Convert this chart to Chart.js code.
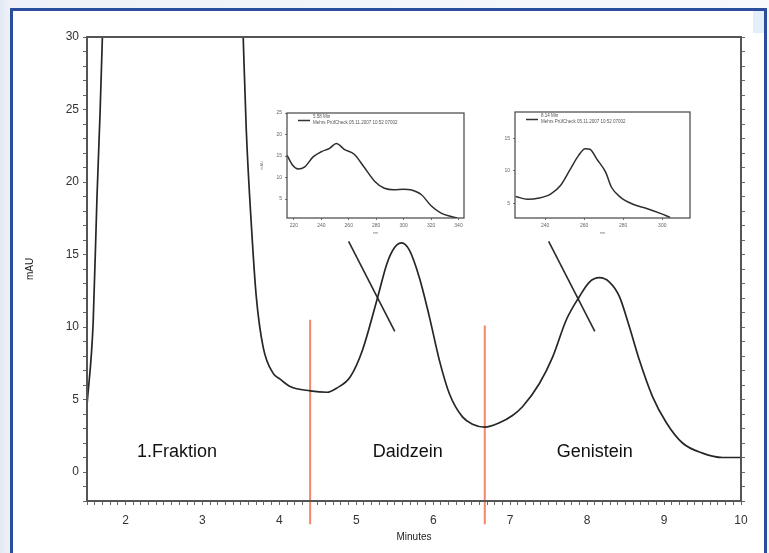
<!DOCTYPE html>
<html lang="de">
<head>
<meta charset="UTF-8">
<title>Chromatogramm Isoflavone</title>
<script src="https://cdn.jsdelivr.net/npm/chart.js"></script>
<style>
  body { margin:0; width:769px; height:553px; overflow:hidden; position:relative;
         background:linear-gradient(90deg,#e3e9f3 0px,#eef2f8 10px,#f7f9fc 100%); }
  #frame { position:absolute; left:10px; top:8px; width:751px; height:560px;
           border:3px solid #2c4d9c; background:#fff; }
  #corner { position:absolute; left:753px; top:11px; width:11px; height:22px; background:#e3f0fb; }
  canvas { position:absolute; }
</style>
</head>
<body>
<div id="frame"></div>
<div id="corner"></div>
<canvas id="mainChart" width="769" height="553" style="left:0;top:0"></canvas>
<canvas id="spec1" width="212" height="136" style="left:255px;top:104px"></canvas>
<canvas id="spec2" width="200" height="137" style="left:495px;top:103px"></canvas>
<script>
// chromatogram (minutes / mAU)
const times  = [1.50, 1.58, 1.63, 1.67, 1.70, 1.75, 3.48, 3.53, 3.57, 3.64, 3.70, 3.79, 3.92, 4.01, 4.14,
                4.40, 4.62, 4.75, 4.92, 5.08, 5.27, 5.40, 5.50, 5.59, 5.69, 5.82, 5.95, 6.08, 6.21, 6.38,
                6.51, 6.67, 6.86, 7.03, 7.16, 7.38, 7.55, 7.73, 7.90, 8.03, 8.16, 8.29, 8.42, 8.55, 8.68,
                8.85, 9.03, 9.24, 9.50, 9.76, 10.00];
const signal = [4.6, 10.3, 19.0, 24.8, 30.0, 38, 38, 30.0, 23.6, 16.7, 12.1, 8.6, 6.8, 6.4, 5.9,
                5.6, 5.5, 5.8, 6.55, 8.4, 11.9, 14.4, 15.5, 15.8, 15.3, 13.4, 10.7, 7.7, 5.4, 3.8,
                3.3, 3.1, 3.4, 3.9, 4.5, 6.1, 7.9, 10.5, 12.1, 13.1, 13.4, 13.1, 12.1, 10.0, 7.7,
                5.2, 3.4, 2.0, 1.3, 1.0, 1.0];

// fraction cuts
const cutTimes = [4.40, 6.67];
const cutTop = [10.5, 10.1];
const cutBottom = -3.6;

// pointer lines from the spectra to the peaks
const pointerStart = [[4.90, 15.9], [7.50, 15.9]];
const pointerEnd   = [[5.50, 9.7], [8.10, 9.7]];

const fractionNames = ['1.Fraktion', 'Daidzein', 'Genistein'];
const fractionTimes = [2.67, 5.67, 8.10];
const fractionLevel = 1.4;

// UV spectra (nm / mAU)
const spec1Wave = [215, 219, 223, 228, 234, 240, 246, 251, 257, 264, 271, 279, 286, 293, 300, 305, 313, 320, 327, 334, 339];
const spec1Abs  = [15.2, 12.9, 12.0, 12.5, 14.8, 16.0, 16.8, 17.9, 16.5, 15.4, 12.5, 9.1, 7.5, 7.15, 7.3, 7.15, 6.0, 3.45, 1.8, 1.0, 0.6];
const spec2Wave = [225, 231, 237, 243, 248, 253, 257, 260.5, 263, 266.5, 271, 274, 278.5, 285, 292, 299, 304];
const spec2Abs  = [6.1, 5.65, 5.85, 6.5, 7.8, 10.3, 12.3, 13.4, 13.3, 11.8, 9.8, 7.5, 6.0, 4.9, 4.25, 3.5, 2.9];

const FONT = '"Liberation Sans", Arial, sans-serif';
Chart.defaults.font.family = FONT;

const isWhole = v => Math.abs(v - Math.round(v)) < 1e-6;
const isFive = v => Math.abs(v / 5 - Math.round(v / 5)) < 1e-6;

const boxPlugin = {
  id: 'box',
  afterDatasetsDraw(chart, args, o) {
    const {ctx, chartArea: a} = chart;
    ctx.save();
    ctx.strokeStyle = o.color || '#555';
    ctx.lineWidth = o.width || 2;
    ctx.strokeRect(a.left, a.top, a.right - a.left, a.bottom - a.top);
    ctx.restore();
  }
};

const labelPlugin = {
  id: 'fractionLabels',
  afterDatasetsDraw(chart) {
    const {ctx, scales: {x, y}} = chart;
    ctx.save();
    ctx.fillStyle = '#111';
    ctx.font = '18px ' + FONT;
    ctx.textAlign = 'center';
    ctx.textBaseline = 'middle';
    fractionNames.forEach((name, i) => {
      ctx.fillText(name, x.getPixelForValue(fractionTimes[i]), y.getPixelForValue(fractionLevel));
    });
    ctx.restore();
  }
};

const mainSets = [{
  data: times.map((t, i) => ({x: t, y: signal[i]})),
  borderColor: '#262626',
  borderWidth: 1.7,
  pointRadius: 0,
  cubicInterpolationMode: 'monotone'
}];
cutTimes.forEach((t, i) => mainSets.push({
  data: [{x: t, y: cutTop[i]}, {x: t, y: cutBottom}],
  borderColor: '#f2876b', borderWidth: 2, pointRadius: 0, clip: false
}));
pointerStart.forEach((p, i) => mainSets.push({
  data: [{x: p[0], y: p[1]}, {x: pointerEnd[i][0], y: pointerEnd[i][1]}],
  borderColor: '#2a2a2a', borderWidth: 1.6, pointRadius: 0
}));

new Chart(document.getElementById('mainChart'), {
  type: 'line',
  data: {datasets: mainSets},
  options: {
    responsive: false,
    animation: false,
    layout: {padding: {top: 37, left: 0, right: 0, bottom: 0}},
    plugins: {legend: {display: false}, tooltip: {enabled: false}, box: {color: '#555', width: 2}},
    scales: {
      x: {
        type: 'linear', min: 1.5, max: 10,
        ticks: {stepSize: 0.1, autoSkip: false, maxRotation: 0, padding: 8, color: '#333',
                font: {size: 12}, callback: v => isWhole(v) ? String(Math.round(v)) : ''},
        grid: {drawOnChartArea: false, tickLength: 4, color: '#666'},
        border: {color: '#555', width: 2},
        title: {display: true, text: 'Minutes', color: '#222', font: {size: 10}, padding: {top: 0, bottom: 10}},
        afterFit: s => { s.height = 52; }
      },
      y: {
        min: -2, max: 30,
        ticks: {stepSize: 1, autoSkip: false, padding: 4, color: '#333', font: {size: 12},
                callback: v => isFive(v) ? String(Math.round(v)) : ''},
        grid: {drawOnChartArea: false, tickLength: 4, color: '#666'},
        border: {color: '#555', width: 2},
        title: {display: true, text: 'mAU', color: '#222', font: {size: 10}, padding: 24},
        afterFit: s => { s.width = 87; }
      },
      y2: {
        position: 'right', min: -2, max: 30,
        ticks: {stepSize: 1, display: false},
        grid: {drawOnChartArea: false, tickLength: 4, color: '#666'},
        border: {color: '#555', width: 2},
        afterFit: s => { s.width = 28; }
      }
    }
  },
  plugins: [boxPlugin, labelPlugin]
});

// inset spectra
const insetPlugin = {
  id: 'insetFrame',
  afterDatasetsDraw(chart, args, o) {
    const {ctx, chartArea: a} = chart;
    ctx.save();
    ctx.strokeStyle = '#444';
    ctx.lineWidth = 1.2;
    ctx.strokeRect(a.left, a.top, a.right - a.left, a.bottom - a.top);
    ctx.strokeStyle = '#333';
    ctx.lineWidth = 1.5;
    ctx.beginPath();
    ctx.moveTo(a.left + 11, a.top + 7.5);
    ctx.lineTo(a.left + 23, a.top + 7.5);
    ctx.stroke();
    ctx.fillStyle = '#555';
    ctx.font = '4.5px ' + FONT;
    ctx.textBaseline = 'middle';
    ctx.fillText(o.title, a.left + 26, a.top + 4);
    ctx.fillText(o.sub, a.left + 26, a.top + 10);
    ctx.restore();
  }
};

function spectrum(id, wave, abs, cfg) {
  new Chart(document.getElementById(id), {
    type: 'line',
    data: {datasets: [{
      data: wave.map((w, i) => ({x: w, y: abs[i]})),
      borderColor: '#2e2e2e', borderWidth: 1.5, pointRadius: 0, cubicInterpolationMode: 'monotone'
    }]},
    options: {
      responsive: false,
      animation: false,
      layout: {padding: {top: 9, left: 0, right: cfg.padRight, bottom: 0}},
      plugins: {legend: {display: false}, tooltip: {enabled: false},
                insetFrame: {title: cfg.title, sub: 'Mehrs PrüfCheck 05.11.2007 10:52 07002'}},
      scales: {
        x: {
          type: 'linear', min: cfg.xMin, max: cfg.xMax,
          ticks: {stepSize: 20, includeBounds: false, autoSkip: false, maxRotation: 0, padding: 3,
                  color: '#666', font: {size: 5}, callback: v => (v % 20 === 0) ? String(v) : ''},
          grid: {drawOnChartArea: false, tickLength: 2, color: '#777'},
          border: {display: false},
          title: {display: true, text: 'nm', color: '#777', font: {size: 4}, padding: {top: 0, bottom: 5}},
          afterFit: s => { s.height = cfg.xHeight; }
        },
        y: {
          min: cfg.yMin, max: cfg.yMax,
          ticks: {stepSize: 5, includeBounds: false, autoSkip: false, padding: 3, color: '#666',
                  font: {size: 5}, callback: v => isFive(v) ? String(Math.round(v)) : ''},
          grid: {drawOnChartArea: false, tickLength: 2, color: '#777'},
          border: {display: false},
          title: {display: cfg.yTitle, text: 'mAU', color: '#777', font: {size: 4}, padding: 4},
          afterFit: s => { s.width = cfg.yWidth; }
        }
      }
    },
    plugins: [insetPlugin]
  });
}

spectrum('spec1', spec1Wave, spec1Abs, {title: '5.58 Min', xMin: 215, xMax: 344, yMin: 0.6, yMax: 25,
  yWidth: 32, padRight: 3, xHeight: 22, yTitle: true});
spectrum('spec2', spec2Wave, spec2Abs, {title: '8.14 Min', xMin: 224.6, xMax: 314.2, yMin: 2.8, yMax: 19,
  yWidth: 20, padRight: 5, xHeight: 22, yTitle: false});
</script>
</body>
</html>
